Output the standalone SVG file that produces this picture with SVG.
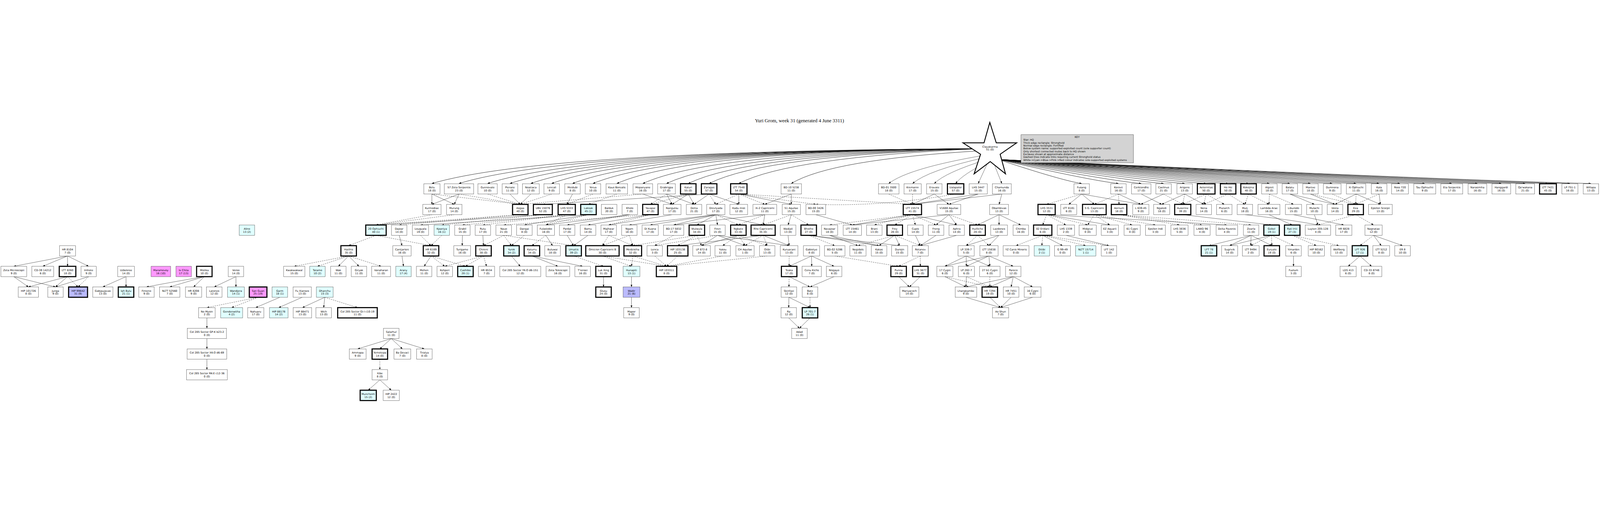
<svg xmlns="http://www.w3.org/2000/svg" width="7439" height="1326" viewBox="0 0 7439 1326" style="max-width:100vw;max-height:100vh">
<style>
text{font-family:"DejaVu Sans","Liberation Sans",sans-serif;font-size:12px;text-anchor:middle;fill:#000}
.title{font-family:"Liberation Serif",serif;font-size:23px}
rect{fill:#fff;stroke:#333;stroke-width:1.2}
.s{stroke:#000;stroke-width:5}
.c{fill:#e0ffff}.b{fill:#bbbbff}.p{fill:#ff99ff}
.k{fill:#d3d3d3}
.kt{text-anchor:start;font-size:11.5px}
#edges path{fill:none;stroke:#000;stroke-width:1.1;marker-end:url(#a)}
#edges .d{stroke-dasharray:6,4}
#edges .h{stroke-width:1.5}
</style>
<defs><marker id="a" markerWidth="10" markerHeight="8" refX="10" refY="4" orient="auto" markerUnits="userSpaceOnUse"><path d="M0,0L10,4L0,8z" fill="#000"/></marker></defs>
<rect width="7439" height="1326" style="fill:#fff;stroke:none"/>
<text class="title" x="3717" y="28">Yuri Grom, week 31 (generated 4 June 3311)</text>
<g id="edges">
<path class="h" d="M4560 150Q2527 160 2008 312"/><path class="h" d="M4560 150Q2628 160 2134 312"/><path class="h" d="M4560 150Q2734 160 2267 312"/><path class="h" d="M4560 150Q2817 160 2371 312"/><path class="h" d="M4560 150Q2895 160 2468 312"/><path class="h" d="M4560 150Q2972 160 2565 312"/><path class="h" d="M4560 150Q3050 160 2662 312"/><path class="h" d="M4560 150Q3126 160 2757 312"/><path class="h" d="M4560 150Q3215 160 2868 312"/><path class="h" d="M4560 150Q3312 165 2989 312"/><path class="h" d="M4560 150Q3400 170 3099 312"/><path class="h" d="M4560 150Q3480 175 3200 312"/><path class="h" d="M4560 150Q3558 180 3297 312"/><path class="h" d="M4560 150Q3668 190 3435 312"/><path class="h" d="M4560 160Q3864 200 3679 312"/><path d="M4580 180Q4226 240 4132 312"/><path d="M4585 190Q4315 250 4243 312"/><path d="M4590 200Q4396 260 4344 312"/><path d="M4595 210Q4475 270 4443 312"/><path d="M4590 220L4548 312"/><path d="M4625 230L4658 312"/>
<path class="h" d="M4640 200Q4944 300 5029 312"/><path class="h" d="M4640 200Q5080 300 5200 312"/><path class="h" d="M4640 200Q5165 300 5306 312"/><path class="h" d="M4640 200Q5248 300 5410 312"/><path class="h" d="M4640 200Q5327 300 5508 312"/><path class="h" d="M4640 200Q5407 300 5608 312"/><path class="h" d="M4640 200Q5488 300 5710 312"/><path class="h" d="M4640 200Q5564 300 5805 312"/><path class="h" d="M4640 200Q5642 300 5902 312"/><path class="h" d="M4640 200Q5718 300 5997 312"/><path class="h" d="M4640 200Q5795 300 6093 312"/><path class="h" d="M4640 200Q5876 300 6194 312"/><path class="h" d="M4640 200Q5964 300 6305 312"/><path class="h" d="M4640 200Q6050 300 6412 312"/><path class="h" d="M4640 200Q6128 300 6509 312"/><path class="h" d="M4640 200Q6220 300 6624 312"/><path class="h" d="M4640 200Q6320 300 6750 312"/><path class="h" d="M4640 200Q6416 300 6869 312"/><path class="h" d="M4640 200Q6504 300 6980 312"/><path class="h" d="M4640 200Q6593 300 7091 312"/><path class="h" d="M4640 200Q6678 300 7197 312"/><path class="h" d="M4640 200Q6760 300 7299 312"/><path class="h" d="M4640 200Q6838 300 7397 312"/>
<path d="M2008 361L2008 409"/><path d="M2008 361L2112 409"/><path d="M2134 361L2008 409"/><path d="M2134 361L2112 409"/><path class="d" d="M2008 361L2419 409"/><path class="d" d="M2134 361L2419 409"/><path class="d" d="M2267 361L2419 409"/><path d="M2371 361L2419 409"/><path d="M2468 361L2419 409"/><path class="d" d="M2565 361L2419 409"/><path d="M2662 361L2635 409"/><path class="d" d="M2757 361L2635 409"/><path class="d" d="M2868 361L2736 409"/><path d="M2989 361L3125 409"/><path class="d" d="M2989 361L2419 409"/><path class="d" d="M3099 361L3024 409"/><path d="M3099 361L3125 409"/><path d="M3099 361L3227 409"/><path d="M3200 361L3125 409"/><path d="M3200 361L3227 409"/><path class="d" d="M3200 361L3024 409"/><path d="M3297 361L3227 409"/><path d="M3297 361L3435 409"/><path class="d" d="M3297 361L3328 409"/><path d="M3297 361L2524 409"/><path d="M3435 361L3435 409"/><path class="d" d="M3435 361L3556 409"/><path d="M3435 361L3679 409"/><path class="d" d="M3435 361L3793 409"/><path class="d" d="M3435 361L4242 409"/><path class="d" d="M3435 361L3328 409"/><path d="M3679 361L3556 409"/><path d="M3679 361L3679 409"/><path class="d" d="M4132 361L4242 409"/><path class="d" d="M4243 361L4242 409"/><path d="M4344 361L4242 409"/><path d="M4344 361L4412 409"/><path class="d" d="M4443 361Q4100 420 3793 409"/><path d="M4548 361L4242 409"/><path d="M4548 361L4412 409"/><path d="M4658 361L4242 409"/><path d="M4658 361L4645 409"/>
<path class="d" d="M5029 361L4866 409"/><path d="M5029 361L4969 409"/><path d="M5029 361L5088 409"/><path d="M5029 361L5304 409"/><path class="d" d="M5200 361L5088 409"/><path class="d" d="M5200 361L5203 409"/><path d="M5200 361L5304 409"/><path d="M5306 361L5401 409"/><path d="M5410 361L5304 409"/><path class="d" d="M5410 361L5499 409"/><path d="M5508 361L5401 409"/><path class="d" d="M5508 361L5499 409"/><path d="M5508 361L5597 409"/><path class="d" d="M5608 361L5597 409"/><path class="d" d="M5608 361L5692 409"/><path class="d" d="M5608 361L5499 409"/><path class="d" d="M5710 361L5788 409"/><path class="d" d="M5710 361L5597 409"/><path class="d" d="M5805 361L5788 409"/><path class="d" d="M5805 361L5900 409"/><path class="d" d="M5902 361L5900 409"/><path class="d" d="M5902 361L6014 409"/><path d="M5997 361L6207 409"/><path d="M5997 361L6111 409"/><path d="M6093 361L6207 409"/><path class="d" d="M6093 361L6303 409"/><path class="d" d="M6194 361L6303 409"/><path d="M6305 361L6207 409"/><path class="d" d="M6305 361L6303 409"/><path d="M6305 361L6418 409"/><path class="d" d="M6412 361L6303 409"/><path d="M6412 361L6418 409"/>
<path class="d" d="M2008 457L1748 505"/><path class="d" d="M2112 457L1748 505"/><path class="d" d="M2419 457L1748 505"/><path d="M2524 457Q2200 480 1748 505"/><path class="d" d="M2524 457L2054 505"/><path class="d" d="M2419 457L1856 505"/><path class="d" d="M2635 457L2150 505"/><path class="d" d="M2635 457L2538 505"/><path class="d" d="M2635 457L2245 505"/><path d="M2736 457L2438 505"/><path d="M2736 457L1955 505"/><path class="d" d="M2736 457L2538 505"/><path d="M2928 457L2538 505"/><path d="M2928 457L2637 505"/><path class="d" d="M3024 457L2342 505"/><path d="M3024 457L2734 505"/><path class="d" d="M3024 457L2830 505"/><path d="M3328 457L2926 505"/><path d="M3328 457L3023 505"/><path d="M3328 457L3132 505"/><path d="M3328 457L3240 505"/><path d="M3328 457L3336 505"/><path class="d" d="M3328 457L3433 505"/><path d="M3328 457L3548 505"/><path d="M3125 457L2830 505"/><path d="M3556 457L3548 505"/><path class="d" d="M3556 457L3433 505"/><path d="M3556 457L3132 505"/><path d="M3679 457L3664 505"/><path class="d" d="M3679 457L3760 505"/><path class="d" d="M3679 457L3548 505"/><path d="M3793 457L3963 505"/><path class="d" d="M4242 457L3857 505"/><path d="M4242 457L3963 505"/><path class="d" d="M4242 457L4065 505"/><path class="d" d="M4242 457L4160 505"/><path class="d" d="M4242 457L4256 505"/><path class="d" d="M4242 457L4352 505"/><path d="M4242 457L4448 505"/><path d="M4412 457L4352 505"/><path d="M4412 457L4448 505"/><path d="M4412 457L3963 505"/><path class="d" d="M4412 457L4545 505"/><path d="M4645 457L4545 505"/><path d="M4645 457L4645 505"/><path d="M4645 457L4746 505"/>
<path class="d" d="M4866 457L4848 505"/><path class="d" d="M4866 457L4956 505"/><path class="d" d="M4866 457L5057 505"/><path d="M4866 457L5160 505"/><path d="M4866 457Q5300 480 5704 505"/><path class="d" d="M5088 457L5057 505"/><path class="d" d="M5088 457L5160 505"/><path class="d" d="M5088 457L5264 505"/><path class="d" d="M5088 457L5372 505"/><path class="d" d="M5203 457L5484 505"/><path class="d" d="M5203 457L5589 505"/><path class="d" d="M5203 457L5817 505"/><path d="M5499 457L5912 505"/><path d="M5900 457L6008 505"/><path d="M6014 457L6248 505"/><path d="M6111 457L6128 505"/><path class="d" d="M6303 457L6128 505"/><path class="d" d="M6303 457L6386 505"/><path d="M5788 457Q6000 480 6128 505"/>
<path class="d" d="M1748 553L1621 601"/><path class="d" d="M1748 553L2004 601"/><path d="M1856 553L1869 601"/><path class="d" d="M1955 553L2004 601"/><path class="d" d="M2054 553L2004 601"/><path d="M2150 553L2149 601"/><path d="M2245 553L2248 601"/><path class="d" d="M2342 553L2248 601"/><path class="d" d="M2342 553L2378 601"/><path class="d" d="M2342 553L2667 601"/><path class="d" d="M2438 553L2378 601"/><path class="d" d="M2538 553L2473 601"/><path d="M2538 553L2569 601"/><path d="M2637 553L2667 601"/><path d="M2734 553L2667 601"/><path class="d" d="M2830 553L2801 601"/><path class="d" d="M2830 553L2942 601"/><path class="d" d="M2926 553L2801 601"/><path class="d" d="M2926 553L2942 601"/><path class="d" d="M3132 553L3044 601"/><path class="d" d="M3240 553L2942 601"/><path class="d" d="M3240 553L3151 601"/><path class="d" d="M3240 553L3262 601"/><path d="M3336 553L3262 601"/><path d="M3336 553L3464 601"/><path d="M3336 553L3669 601"/><path class="d" d="M3336 553L3044 601"/><path class="d" d="M3433 553L3360 601"/><path class="d" d="M3433 553L3464 601"/><path d="M3433 553L3262 601"/><path class="d" d="M3433 553L3567 601"/><path class="d" d="M3548 553L3464 601"/><path class="d" d="M3548 553L3567 601"/><path d="M3548 553L3669 601"/><path d="M3548 553L3151 601"/><path d="M3664 553L3669 601"/><path class="d" d="M3760 553L3881 601"/><path d="M3760 553L4087 601"/><path d="M3760 553L4183 601"/><path d="M3857 553L3989 601"/><path d="M3857 553L4087 601"/><path d="M4160 553L4087 601"/><path d="M4160 553L4183 601"/><path class="d" d="M4160 553L4279 601"/><path class="d" d="M4160 553L3989 601"/><path d="M4256 553L4279 601"/><path d="M4352 553L4279 601"/><path d="M4448 553L4279 601"/><path class="d" d="M4545 553L4492 601"/><path class="d" d="M4545 553L4598 601"/><path d="M4645 553L4598 601"/><path d="M4645 553L4492 601"/>
<path class="d" d="M4848 553L4724 601"/><path class="d" d="M4848 553L4844 601"/><path d="M4848 553L4940 601"/><path class="d" d="M4848 553L5048 601"/><path class="d" d="M4848 553L5156 601"/><path d="M4956 553L5156 601"/><path d="M5817 553L5621 601"/><path d="M5817 553L5717 601"/><path d="M5817 553L5815 601"/><path d="M5817 553L5913 601"/><path d="M5912 553L5717 601"/><path class="d" d="M5912 553L5815 601"/><path class="d" d="M5912 553L5913 601"/><path class="d" d="M5912 553L6014 601"/><path class="d" d="M6008 553L6120 601"/><path class="d" d="M6008 553L6225 601"/><path class="d" d="M6386 553L6323 601"/><path d="M6386 553L6422 601"/><path d="M6386 553L6521 601"/>
<path d="M314 649L64 697"/><path d="M314 649L199 697"/><path d="M314 649L314 697"/><path d="M314 649L412 697"/><path class="d" d="M1621 649L1368 697"/><path class="d" d="M1621 649L1476 697"/><path d="M1621 649L1573 697"/><path d="M1621 649L1669 697"/><path class="d" d="M1621 649L1772 697"/><path d="M1869 649L1876 697"/><path d="M2004 649L1972 697"/><path class="d" d="M2004 649L2068 697"/><path class="d" d="M2004 649L2164 697"/><path class="d" d="M2248 649L2068 697"/><path class="d" d="M2248 649L2164 697"/><path class="d" d="M2248 649L2262 697"/><path d="M2378 649L2419 697"/><path d="M2473 649L2594 697"/><path d="M2473 649L2709 697"/><path class="d" d="M2667 649L2806 697"/><path class="d" d="M2801 649L2936 697"/><path class="d" d="M2801 649L3099 697"/><path class="d" d="M2942 649L2936 697"/><path class="d" d="M2942 649L3099 697"/><path class="d" d="M3044 649L3099 697"/><path class="d" d="M3151 649L3099 697"/><path class="d" d="M3360 649L3099 697"/><path class="d" d="M3567 649L3099 697"/><path class="d" d="M3669 649L3669 697"/><path d="M3773 649L3669 697"/><path d="M3773 649L3774 697"/><path d="M3773 649L3878 697"/><path class="d" d="M3881 649L4178 697"/><path class="d" d="M4279 649L4178 697"/><path class="d" d="M4279 649L4279 697"/><path d="M4492 649L4393 697"/><path d="M4492 649L4493 697"/><path d="M4492 649L4602 697"/><path d="M4598 649L4393 697"/><path d="M4598 649L4493 697"/><path d="M4598 649L4602 697"/><path d="M4598 649L4711 697"/><path d="M6014 649L6014 697"/><path d="M6323 649L6268 697"/><path d="M6323 649L6377 697"/>
<path d="M64 745L132 793"/><path d="M64 745L258 793"/><path d="M314 745L132 793"/><path d="M314 745L258 793"/><path class="d" d="M314 745L363 793"/><path d="M412 745L258 793"/><path class="d" d="M412 745L363 793"/><path d="M586 745L478 793"/><path d="M586 745L586 793"/><path d="M950 745Q800 770 681 793"/><path d="M950 745L789 793"/><path d="M950 745L900 793"/><path d="M1097 745L996 793"/><path d="M1097 745L1097 793"/><path d="M2806 745L2806 793"/><path d="M2936 745L2936 793"/><path class="d" d="M3669 745L3668 793"/><path d="M3669 745L3766 793"/><path d="M3878 745L3766 793"/><path d="M4178 745L4228 793"/><path d="M4279 745L4228 793"/><path d="M4393 745L4491 793"/><path class="d" d="M4393 745L4602 793"/><path d="M4493 745L4491 793"/><path class="d" d="M4493 745L4602 793"/><path class="d" d="M4602 745L4602 793"/><path d="M4711 745L4602 793"/><path d="M4711 745L4701 793"/><path d="M4711 745L4801 793"/><path d="M4711 745L4491 793"/>
<path class="d" d="M1200 841L962 889"/><path class="d" d="M1200 841L1077 889"/><path d="M1301 841L1189 889"/><path d="M1405 841L1296 889"/><path d="M1510 841L1406 889"/><path d="M1510 841L1505 889"/><path class="d" d="M1510 841L1662 889"/><path d="M2936 841L2936 889"/><path d="M3668 841L3667 889"/><path d="M3668 841L3766 889"/><path class="d" d="M3766 841L3766 889"/><path d="M4491 841L4652 889"/><path d="M4602 841L4652 889"/><path d="M4701 841L4652 889"/><path d="M4801 841L4652 889"/>
<path d="M962 937L962 985"/><path d="M3667 937L3717 985"/><path d="M3766 937L3717 985"/><path d="M962 1033L962 1081"/><path d="M962 1129L962 1177"/><path d="M1819 1033L1663 1081"/><path d="M1819 1033L1766 1081"/><path d="M1819 1033L1871 1081"/><path d="M1819 1033L1973 1081"/><path class="d" d="M1766 1129L1766 1177"/><path d="M1766 1225L1712 1273"/><path d="M1766 1225L1819 1273"/>
</g>
<g id="n-clayakarma"><polygon points="4602,28 4632,123 4727,123 4650,176 4675,267 4604,210 4529,267 4559,176 4477,123 4575,123" style="fill:#fff;stroke:#000;stroke-width:4"/><text x="4603" y="145">Clayakarma<tspan x="4603" dy="14">51 (0)</tspan></text></g>
<g id="legend"><rect class="k" x="4747" y="85" width="523" height="131"/><text x="5008" y="100">KEY</text><text class="kt" x="4758" y="113">Star: HQ</text><text class="kt" x="4758" y="127">Thick edge rectangle: Stronghold</text><text class="kt" x="4758" y="140">Normal edge rectangle: Fortified</text><text class="kt" x="4758" y="153">Below system name: supported exploited count (sole supporter count)</text><text class="kt" x="4758" y="167">Only shortest connected routes back to HQ shown</text><text class="kt" x="4758" y="180">Exclaves shown at approximate distance</text><text class="kt" x="4758" y="193">Dashed lines indicate links requiring current Stronghold status</text><text class="kt" x="4758" y="207">White-&gt;Cyan-&gt;Blue-&gt;Pink-&gt;Red colour indicates sole-supported exploited systems</text></g>
<g id="n-belu"><rect x="1970.5" y="313" width="75" height="48"/><text x="2008" y="335">Belu<tspan x="2008" dy="14">18 (0)</tspan></text></g>
<g id="n-57zs"><rect x="2065.5" y="313" width="137" height="48"/><text x="2134" y="335">57 Zeta Serpentis<tspan x="2134" dy="14">23 (0)</tspan></text></g>
<g id="n-gunnovale"><rect x="2222" y="313" width="90" height="48"/><text x="2267" y="335">Gunnovale<tspan x="2267" dy="14">10 (0)</tspan></text></g>
<g id="n-pienate"><rect x="2335" y="313" width="72" height="48"/><text x="2371" y="335">Pienate<tspan x="2371" dy="14">11 (0)</tspan></text></g>
<g id="n-noatiaca"><rect x="2429" y="313" width="78" height="48"/><text x="2468" y="335">Noatiaca<tspan x="2468" dy="14">12 (0)</tspan></text></g>
<g id="n-lencali"><rect x="2529" y="313" width="72" height="48"/><text x="2565" y="335">Lencali<tspan x="2565" dy="14">9 (0)</tspan></text></g>
<g id="n-meidubi"><rect x="2626" y="313" width="72" height="48"/><text x="2662" y="335">Meidubi<tspan x="2662" dy="14">8 (0)</tspan></text></g>
<g id="n-yorua"><rect x="2721" y="313" width="72" height="48"/><text x="2757" y="335">Yorua<tspan x="2757" dy="14">10 (0)</tspan></text></g>
<g id="n-kaus"><rect x="2818" y="313" width="100" height="48"/><text x="2868" y="335">Kaus Borealis<tspan x="2868" dy="14">11 (0)</tspan></text></g>
<g id="n-mopanyane"><rect x="2943.5" y="313" width="91" height="48"/><text x="2989" y="335">Mopanyane<tspan x="2989" dy="14">16 (0)</tspan></text></g>
<g id="n-grabrigpa"><rect x="3058" y="313" width="82" height="48"/><text x="3099" y="335">Grabrigpa<tspan x="3099" dy="14">17 (0)</tspan></text></g>
<g id="n-katuri"><rect class="s" x="3164" y="313" width="72" height="48"/><text x="3200" y="335">Katuri<tspan x="3200" dy="14">55 (0)</tspan></text></g>
<g id="n-zaragas"><rect class="s" x="3261" y="313" width="72" height="48"/><text x="3297" y="335">Zaragas<tspan x="3297" dy="14">57 (0)</tspan></text></g>
<g id="n-ltt7548"><rect class="s" x="3397" y="313" width="76" height="48"/><text x="3435" y="335">LTT 7548<tspan x="3435" dy="14">54 (0)</tspan></text></g>
<g id="n-bd105238"><rect x="3631.5" y="313" width="95" height="48"/><text x="3679" y="335">BD-10 5238<tspan x="3679" dy="14">11 (0)</tspan></text></g>
<g id="n-bd013500"><rect x="4084.5" y="313" width="95" height="48"/><text x="4132" y="335">BD-01 3500<tspan x="4132" dy="14">18 (0)</tspan></text></g>
<g id="n-kremainn"><rect x="4203" y="313" width="80" height="48"/><text x="4243" y="335">Kremainn<tspan x="4243" dy="14">17 (0)</tspan></text></g>
<g id="n-eravate"><rect x="4308" y="313" width="72" height="48"/><text x="4344" y="335">Eravate<tspan x="4344" dy="14">15 (0)</tspan></text></g>
<g id="n-ualapalor"><rect class="s" x="4405" y="313" width="76" height="48"/><text x="4443" y="335">Ualapalor<tspan x="4443" dy="14">57 (0)</tspan></text></g>
<g id="n-lhs3447"><rect x="4506" y="313" width="84" height="48"/><text x="4548" y="335">LHS 3447<tspan x="4548" dy="14">15 (0)</tspan></text></g>
<g id="n-chamunda"><rect x="4614" y="313" width="88" height="48"/><text x="4658" y="335">Chamunda<tspan x="4658" dy="14">16 (0)</tspan></text></g>
<g id="n-fusang"><rect x="4993" y="313" width="72" height="48"/><text x="5029" y="335">Fusang<tspan x="5029" dy="14">8 (0)</tspan></text></g>
<g id="n-korovii"><rect x="5164" y="313" width="72" height="48"/><text x="5200" y="335">Korovii<tspan x="5200" dy="14">16 (0)</tspan></text></g>
<g id="n-cerktondhs"><rect x="5261" y="313" width="90" height="48"/><text x="5306" y="335">Cerktondhs<tspan x="5306" dy="14">17 (0)</tspan></text></g>
<g id="n-caelinus"><rect x="5374" y="313" width="72" height="48"/><text x="5410" y="335">Caelinus<tspan x="5410" dy="14">21 (0)</tspan></text></g>
<g id="n-arigens"><rect x="5472" y="313" width="72" height="48"/><text x="5508" y="335">Arigens<tspan x="5508" dy="14">13 (0)</tspan></text></g>
<g id="n-aeternitas"><rect class="s" x="5567" y="313" width="82" height="48"/><text x="5608" y="335">Aeternitas<tspan x="5608" dy="14">50 (0)</tspan></text></g>
<g id="n-hohsi"><rect class="s" x="5674" y="313" width="72" height="48"/><text x="5710" y="335">Ho Hsi<tspan x="5710" dy="14">50 (0)</tspan></text></g>
<g id="n-kokojina"><rect class="s" x="5769" y="313" width="72" height="48"/><text x="5805" y="335">Kokojina<tspan x="5805" dy="14">48 (0)</tspan></text></g>
<g id="n-algreit"><rect x="5866" y="313" width="72" height="48"/><text x="5902" y="335">Algreit<tspan x="5902" dy="14">18 (0)</tspan></text></g>
<g id="n-balatu"><rect x="5961" y="313" width="72" height="48"/><text x="5997" y="335">Balatu<tspan x="5997" dy="14">17 (0)</tspan></text></g>
<g id="n-mantxe"><rect x="6057" y="313" width="72" height="48"/><text x="6093" y="335">Mantxe<tspan x="6093" dy="14">18 (0)</tspan></text></g>
<g id="n-dumnona"><rect x="6153" y="313" width="82" height="48"/><text x="6194" y="335">Dumnona<tspan x="6194" dy="14">9 (0)</tspan></text></g>
<g id="n-xioph"><rect x="6260" y="313" width="90" height="48"/><text x="6305" y="335">Xi Ophiuchi<tspan x="6305" dy="14">11 (0)</tspan></text></g>
<g id="n-kala"><rect x="6376" y="313" width="72" height="48"/><text x="6412" y="335">Kala<tspan x="6412" dy="14">16 (0)</tspan></text></g>
<g id="n-ross720"><rect x="6470" y="313" width="78" height="48"/><text x="6509" y="335">Ross 720<tspan x="6509" dy="14">14 (0)</tspan></text></g>
<g id="n-tauoph"><rect x="6573" y="313" width="102" height="48"/><text x="6624" y="335">Tau Ophiuchii<tspan x="6624" dy="14">9 (0)</tspan></text></g>
<g id="n-etaserp"><rect x="6699" y="313" width="102" height="48"/><text x="6750" y="335">Eta Serpentis<tspan x="6750" dy="14">17 (0)</tspan></text></g>
<g id="n-narasimha"><rect x="6825.5" y="313" width="87" height="48"/><text x="6869" y="335">Narasimha<tspan x="6869" dy="14">16 (0)</tspan></text></g>
<g id="n-hanggardi"><rect x="6936.5" y="313" width="87" height="48"/><text x="6980" y="335">Hanggardi<tspan x="6980" dy="14">16 (0)</tspan></text></g>
<g id="n-qawakana"><rect x="7047.5" y="313" width="87" height="48"/><text x="7091" y="335">Qa'wakana<tspan x="7091" dy="14">21 (0)</tspan></text></g>
<g id="n-ltt7421"><rect class="s" x="7158" y="313" width="78" height="48"/><text x="7197" y="335">LTT 7421<tspan x="7197" dy="14">45 (0)</tspan></text></g>
<g id="n-lp7511"><rect x="7261.5" y="313" width="75" height="48"/><text x="7299" y="335">LP 751-1<tspan x="7299" dy="14">16 (0)</tspan></text></g>
<g id="n-willapa"><rect x="7361" y="313" width="72" height="48"/><text x="7397" y="335">Willapa<tspan x="7397" dy="14">13 (0)</tspan></text></g>
<g id="n-kurmodiae"><rect x="1965.5" y="409" width="85" height="48"/><text x="2008" y="431">Kurmodiae<tspan x="2008" dy="14">17 (0)</tspan></text></g>
<g id="n-murung"><rect x="2076" y="409" width="72" height="48"/><text x="2112" y="431">Murung<tspan x="2112" dy="14">14 (0)</tspan></text></g>
<g id="n-asgaa"><rect class="s" x="2383" y="409" width="72" height="48"/><text x="2419" y="431">Asgaa<tspan x="2419" dy="14">40 (0)</tspan></text></g>
<g id="n-ubv15076"><rect class="s" x="2480" y="409" width="88" height="48"/><text x="2524" y="431">UBV 15076<tspan x="2524" dy="14">52 (0)</tspan></text></g>
<g id="n-lhs5333"><rect class="s" x="2595" y="409" width="80" height="48"/><text x="2635" y="431">LHS 5333<tspan x="2635" dy="14">47 (0)</tspan></text></g>
<g id="n-laksak"><rect class="s c" x="2700" y="409" width="72" height="48"/><text x="2736" y="431">Laksak<tspan x="2736" dy="14">45 (1)</tspan></text></g>
<g id="n-balduk"><rect x="2796" y="409" width="72" height="48"/><text x="2832" y="431">Balduk<tspan x="2832" dy="14">20 (0)</tspan></text></g>
<g id="n-kholo"><rect x="2892" y="409" width="72" height="48"/><text x="2928" y="431">Kholo<tspan x="2928" dy="14">7 (0)</tspan></text></g>
<g id="n-yavapai"><rect class="s" x="2988" y="409" width="72" height="48"/><text x="3024" y="431">Yavapai<tspan x="3024" dy="14">47 (0)</tspan></text></g>
<g id="n-nangutsu"><rect x="3084" y="409" width="82" height="48"/><text x="3125" y="431">Nangutsu<tspan x="3125" dy="14">17 (0)</tspan></text></g>
<g id="n-detta"><rect x="3191" y="409" width="72" height="48"/><text x="3227" y="431">Detta<tspan x="3227" dy="14">21 (0)</tspan></text></g>
<g id="n-drevlyada"><rect x="3285.5" y="409" width="85" height="48"/><text x="3328" y="431">Drevlyada<tspan x="3328" dy="14">17 (0)</tspan></text></g>
<g id="n-kadumist"><rect x="3394" y="409" width="82" height="48"/><text x="3435" y="431">Kadu mist<tspan x="3435" dy="14">12 (0)</tspan></text></g>
<g id="n-xi2cap"><rect x="3501" y="409" width="110" height="48"/><text x="3556" y="431">Xi-2 Capricorni<tspan x="3556" dy="14">11 (0)</tspan></text></g>
<g id="n-51aql"><rect x="3636.5" y="409" width="85" height="48"/><text x="3679" y="431">51 Aquilae<tspan x="3679" dy="14">15 (0)</tspan></text></g>
<g id="n-bd003426"><rect x="3747" y="409" width="92" height="48"/><text x="3793" y="431">BD-00 3426<tspan x="3793" dy="14">15 (0)</tspan></text></g>
<g id="n-ltt15574"><rect class="s" x="4199.5" y="409" width="85" height="48"/><text x="4242" y="431">LTT 15574<tspan x="4242" dy="14">41 (0)</tspan></text></g>
<g id="n-v1688"><rect x="4357" y="409" width="110" height="48"/><text x="4412" y="431">V1688 Aquilae<tspan x="4412" dy="14">15 (0)</tspan></text></g>
<g id="n-obambivas"><rect x="4601" y="409" width="88" height="48"/><text x="4645" y="431">Obambivas<tspan x="4645" dy="14">13 (0)</tspan></text></g>
<g id="n-lhs3531"><rect class="s" x="4826" y="409" width="80" height="48"/><text x="4866" y="431">LHS 3531<tspan x="4866" dy="14">12 (0)</tspan></text></g>
<g id="n-ltt8181"><rect x="4931.5" y="409" width="75" height="48"/><text x="4969" y="431">LTT 8181<tspan x="4969" dy="14">6 (0)</tspan></text></g>
<g id="n-5gcap"><rect class="s" x="5033" y="409" width="110" height="48"/><text x="5088" y="431">5 G. Capricorni<tspan x="5088" dy="14">13 (0)</tspan></text></g>
<g id="n-aornum"><rect class="s" x="5167" y="409" width="72" height="48"/><text x="5203" y="431">Aornum<tspan x="5203" dy="14">18 (0)</tspan></text></g>
<g id="n-l63945"><rect x="5266.5" y="409" width="75" height="48"/><text x="5304" y="431">L 639-45<tspan x="5304" dy="14">9 (0)</tspan></text></g>
<g id="n-ngaledi"><rect x="5363.5" y="409" width="75" height="48"/><text x="5401" y="431">Ngaledi<tspan x="5401" dy="14">18 (0)</tspan></text></g>
<g id="n-auserine"><rect class="s" x="5461.5" y="409" width="75" height="48"/><text x="5499" y="431">Auserine<tspan x="5499" dy="14">39 (0)</tspan></text></g>
<g id="n-nona"><rect x="5561" y="409" width="72" height="48"/><text x="5597" y="431">Nona<tspan x="5597" dy="14">14 (0)</tspan></text></g>
<g id="n-plutarch"><rect x="5656" y="409" width="72" height="48"/><text x="5692" y="431">Plutarch<tspan x="5692" dy="14">6 (0)</tspan></text></g>
<g id="n-mutj"><rect x="5752" y="409" width="72" height="48"/><text x="5788" y="431">Mutj<tspan x="5788" dy="14">18 (0)</tspan></text></g>
<g id="n-lambdaarae"><rect x="5849" y="409" width="102" height="48"/><text x="5900" y="431">Lambda Arae<tspan x="5900" dy="14">16 (0)</tspan></text></g>
<g id="n-liburodo"><rect x="5976.5" y="409" width="75" height="48"/><text x="6014" y="431">Liburodo<tspan x="6014" dy="14">15 (0)</tspan></text></g>
<g id="n-mulachi"><rect x="6075" y="409" width="72" height="48"/><text x="6111" y="431">Mulachi<tspan x="6111" dy="14">10 (0)</tspan></text></g>
<g id="n-isleta"><rect x="6171" y="409" width="72" height="48"/><text x="6207" y="431">Isleta<tspan x="6207" dy="14">14 (0)</tspan></text></g>
<g id="n-eea"><rect class="s" x="6267" y="409" width="72" height="48"/><text x="6303" y="431">Eea<tspan x="6303" dy="14">29 (0)</tspan></text></g>
<g id="n-epsscorpii"><rect x="6363" y="409" width="110" height="48"/><text x="6418" y="431">Epsilon Scorpii<tspan x="6418" dy="14">13 (0)</tspan></text></g>
<g id="n-alino"><rect class="c" x="1112" y="505" width="72" height="48"/><text x="1148" y="527">Alino<tspan x="1148" dy="14">13 (2)</tspan></text></g>
<g id="n-20oph"><rect class="s c" x="1700.5" y="505" width="95" height="48"/><text x="1748" y="527">20 Ophiuchi<tspan x="1748" dy="14">40 (1)</tspan></text></g>
<g id="n-dajoar"><rect x="1820" y="505" width="72" height="48"/><text x="1856" y="527">Dajoar<tspan x="1856" dy="14">14 (0)</tspan></text></g>
<g id="n-louguala"><rect x="1917.5" y="505" width="75" height="48"/><text x="1955" y="527">Louguala<tspan x="1955" dy="14">19 (0)</tspan></text></g>
<g id="n-kpaniya"><rect class="c" x="2018" y="505" width="72" height="48"/><text x="2054" y="527">Kpaniya<tspan x="2054" dy="14">16 (1)</tspan></text></g>
<g id="n-grabil"><rect x="2114" y="505" width="72" height="48"/><text x="2150" y="527">Grabil<tspan x="2150" dy="14">15 (0)</tspan></text></g>
<g id="n-rutu"><rect x="2209" y="505" width="72" height="48"/><text x="2245" y="527">Rutu<tspan x="2245" dy="14">17 (0)</tspan></text></g>
<g id="n-nauo"><rect x="2306" y="505" width="72" height="48"/><text x="2342" y="527">Nauo<tspan x="2342" dy="14">21 (0)</tspan></text></g>
<g id="n-dangai"><rect x="2402" y="505" width="72" height="48"/><text x="2438" y="527">Dangai<tspan x="2438" dy="14">8 (0)</tspan></text></g>
<g id="n-fulastobo"><rect x="2498" y="505" width="80" height="48"/><text x="2538" y="527">Fulastobo<tspan x="2538" dy="14">16 (0)</tspan></text></g>
<g id="n-pardal"><rect x="2601" y="505" width="72" height="48"/><text x="2637" y="527">Pardal<tspan x="2637" dy="14">17 (0)</tspan></text></g>
<g id="n-bamu"><rect x="2698" y="505" width="72" height="48"/><text x="2734" y="527">Bamu<tspan x="2734" dy="14">14 (0)</tspan></text></g>
<g id="n-majhwar"><rect x="2794" y="505" width="72" height="48"/><text x="2830" y="527">Majhwar<tspan x="2830" dy="14">17 (0)</tspan></text></g>
<g id="n-ngam"><rect x="2890" y="505" width="72" height="48"/><text x="2926" y="527">Ngam<tspan x="2926" dy="14">18 (0)</tspan></text></g>
<g id="n-dikuana"><rect x="2985.5" y="505" width="75" height="48"/><text x="3023" y="527">Di Kuana<tspan x="3023" dy="14">17 (0)</tspan></text></g>
<g id="n-bd175832"><rect x="3084.5" y="505" width="95" height="48"/><text x="3132" y="527">BD-17 5832<tspan x="3132" dy="14">17 (0)</tspan></text></g>
<g id="n-wulwula"><rect class="s" x="3204" y="505" width="72" height="48"/><text x="3240" y="527">Wulwula<tspan x="3240" dy="14">34 (0)</tspan></text></g>
<g id="n-firen"><rect x="3300" y="505" width="72" height="48"/><text x="3336" y="527">Firen<tspan x="3336" dy="14">15 (0)</tspan></text></g>
<g id="n-ngbato"><rect class="s" x="3397" y="505" width="72" height="48"/><text x="3433" y="527">Ngbato<tspan x="3433" dy="14">33 (0)</tspan></text></g>
<g id="n-rhocap"><rect class="s" x="3492" y="505" width="112" height="48"/><text x="3548" y="527">Rho Capricorni<tspan x="3548" dy="14">35 (0)</tspan></text></g>
<g id="n-wadjali"><rect x="3628" y="505" width="72" height="48"/><text x="3664" y="527">Wadjali<tspan x="3664" dy="14">13 (0)</tspan></text></g>
<g id="n-bhotho"><rect class="s" x="3724" y="505" width="72" height="48"/><text x="3760" y="527">Bhotho<tspan x="3760" dy="14">27 (0)</tspan></text></g>
<g id="n-navajoar"><rect x="3819.5" y="505" width="75" height="48"/><text x="3857" y="527">Navajoar<tspan x="3857" dy="14">18 (0)</tspan></text></g>
<g id="n-ltt15461"><rect x="3920.5" y="505" width="85" height="48"/><text x="3963" y="527">LTT 15461<tspan x="3963" dy="14">14 (0)</tspan></text></g>
<g id="n-brani"><rect x="4029" y="505" width="72" height="48"/><text x="4065" y="527">Brani<tspan x="4065" dy="14">13 (0)</tspan></text></g>
<g id="n-frey"><rect class="s" x="4124" y="505" width="72" height="48"/><text x="4160" y="527">Frey<tspan x="4160" dy="14">28 (0)</tspan></text></g>
<g id="n-cupis"><rect x="4220" y="505" width="72" height="48"/><text x="4256" y="527">Cupis<tspan x="4256" dy="14">14 (0)</tspan></text></g>
<g id="n-freng"><rect x="4316" y="505" width="72" height="48"/><text x="4352" y="527">Freng<tspan x="4352" dy="14">11 (0)</tspan></text></g>
<g id="n-aphra"><rect x="4412" y="505" width="72" height="48"/><text x="4448" y="527">Aphra<tspan x="4448" dy="14">14 (0)</tspan></text></g>
<g id="n-huilliche"><rect class="s" x="4509" y="505" width="72" height="48"/><text x="4545" y="527">Huilliche<tspan x="4545" dy="14">28 (0)</tspan></text></g>
<g id="n-lazdones"><rect x="4606" y="505" width="78" height="48"/><text x="4645" y="527">Lazdones<tspan x="4645" dy="14">13 (0)</tspan></text></g>
<g id="n-chimba"><rect x="4710" y="505" width="72" height="48"/><text x="4746" y="527">Chimba<tspan x="4746" dy="14">16 (0)</tspan></text></g>
<g id="n-82eri"><rect class="s" x="4805.5" y="505" width="85" height="48"/><text x="4848" y="527">82 Eridani<tspan x="4848" dy="14">6 (0)</tspan></text></g>
<g id="n-lhs1339"><rect x="4916" y="505" width="80" height="48"/><text x="4956" y="527">LHS 1339<tspan x="4956" dy="14">2 (0)</tspan></text></g>
<g id="n-midgcut"><rect x="5017" y="505" width="80" height="48"/><text x="5057" y="527">Midgcut<tspan x="5057" dy="14">0 (0)</tspan></text></g>
<g id="n-ezaqr"><rect x="5120" y="505" width="80" height="48"/><text x="5160" y="527">EZ Aquarii<tspan x="5160" dy="14">3 (0)</tspan></text></g>
<g id="n-61cyg"><rect x="5226.5" y="505" width="75" height="48"/><text x="5264" y="527">61 Cygni<tspan x="5264" dy="14">0 (0)</tspan></text></g>
<g id="n-epsindi"><rect x="5326" y="505" width="92" height="48"/><text x="5372" y="527">Epsilon Indi<tspan x="5372" dy="14">3 (0)</tspan></text></g>
<g id="n-lhs3836"><rect x="5444" y="505" width="80" height="48"/><text x="5484" y="527">LHS 3836<tspan x="5484" dy="14">5 (0)</tspan></text></g>
<g id="n-lawd96"><rect x="5551.5" y="505" width="75" height="48"/><text x="5589" y="527">LAWD 96<tspan x="5589" dy="14">4 (0)</tspan></text></g>
<g id="n-deltapav"><rect x="5654" y="505" width="100" height="48"/><text x="5704" y="527">Delta Pavonis<tspan x="5704" dy="14">4 (0)</tspan></text></g>
<g id="n-zearla"><rect x="5781" y="505" width="72" height="48"/><text x="5817" y="527">Zearla<tspan x="5817" dy="14">11 (0)</tspan></text></g>
<g id="n-gebel"><rect class="s c" x="5876" y="505" width="72" height="48"/><text x="5912" y="527">Gebel<tspan x="5912" dy="14">19 (1)</tspan></text></g>
<g id="n-ratiirtii"><rect class="s c" x="5972" y="505" width="72" height="48"/><text x="6008" y="527">Rati Irtii<tspan x="6008" dy="14">27 (3)</tspan></text></g>
<g id="n-luyten"><rect x="6069" y="505" width="118" height="48"/><text x="6128" y="527">Luyten 205-128<tspan x="6128" dy="14">4 (0)</tspan></text></g>
<g id="n-hr6828"><rect x="6210.5" y="505" width="75" height="48"/><text x="6248" y="527">HR 6828<tspan x="6248" dy="14">17 (0)</tspan></text></g>
<g id="n-nagnatae"><rect x="6346" y="505" width="80" height="48"/><text x="6386" y="527">Nagnatae<tspan x="6386" dy="14">12 (0)</tspan></text></g>
<g id="n-hr8104"><rect x="276.5" y="601" width="75" height="48"/><text x="314" y="623">HR 8104<tspan x="314" dy="14">7 (0)</tspan></text></g>
<g id="n-haithis"><rect class="s" x="1585" y="601" width="72" height="48"/><text x="1621" y="623">Haithis<tspan x="1621" dy="14">35 (0)</tspan></text></g>
<g id="n-cantjarisni"><rect x="1826.5" y="601" width="85" height="48"/><text x="1869" y="623">Cantjarisni<tspan x="1869" dy="14">16 (0)</tspan></text></g>
<g id="n-hr6189"><rect class="s" x="1968" y="601" width="72" height="48"/><text x="2004" y="623">HR 6189<tspan x="2004" dy="14">32 (0)</tspan></text></g>
<g id="n-turigame"><rect x="2110" y="601" width="78" height="48"/><text x="2149" y="623">Turigame<tspan x="2149" dy="14">16 (0)</tspan></text></g>
<g id="n-chireni"><rect class="s" x="2212" y="601" width="72" height="48"/><text x="2248" y="623">Chireni<tspan x="2248" dy="14">38 (0)</tspan></text></g>
<g id="n-yurok"><rect class="s c" x="2342" y="601" width="72" height="48"/><text x="2378" y="623">Yurok<tspan x="2378" dy="14">34 (2)</tspan></text></g>
<g id="n-katurru"><rect class="s" x="2437" y="601" width="72" height="48"/><text x="2473" y="623">Katurru<tspan x="2473" dy="14">34 (0)</tspan></text></g>
<g id="n-buluwai"><rect x="2533" y="601" width="72" height="48"/><text x="2569" y="623">Buluwai<tspan x="2569" dy="14">18 (0)</tspan></text></g>
<g id="n-umaitis"><rect class="s c" x="2631" y="601" width="72" height="48"/><text x="2667" y="623">Umaitis<tspan x="2667" dy="14">39 (2)</tspan></text></g>
<g id="n-omicronb"><rect class="s" x="2723.5" y="601" width="155" height="48"/><text x="2801" y="623">Omicron Capricorni B<tspan x="2801" dy="14">30 (0)</tspan></text></g>
<g id="n-medzistha"><rect class="s" x="2901" y="601" width="82" height="48"/><text x="2942" y="623">Medzistha<tspan x="2942" dy="14">32 (0)</tspan></text></g>
<g id="n-lenca"><rect x="3008" y="601" width="72" height="48"/><text x="3044" y="623">Lenca<tspan x="3044" dy="14">3 (0)</tspan></text></g>
<g id="n-hip103138"><rect class="s" x="3103.5" y="601" width="95" height="48"/><text x="3151" y="623">HIP 103138<tspan x="3151" dy="14">25 (0)</tspan></text></g>
<g id="n-lp8728"><rect x="3221" y="601" width="82" height="48"/><text x="3262" y="623">LP 872-8<tspan x="3262" dy="14">14 (0)</tspan></text></g>
<g id="n-yukou"><rect x="3324" y="601" width="72" height="48"/><text x="3360" y="623">Yukou<tspan x="3360" dy="14">11 (0)</tspan></text></g>
<g id="n-chaql"><rect x="3421.5" y="601" width="85" height="48"/><text x="3464" y="623">CH Aquilae<tspan x="3464" dy="14">1 (0)</tspan></text></g>
<g id="n-oitbi"><rect x="3531" y="601" width="72" height="48"/><text x="3567" y="623">Oitbi<tspan x="3567" dy="14">13 (0)</tspan></text></g>
<g id="n-kuruacani"><rect x="3628" y="601" width="82" height="48"/><text x="3669" y="623">Kuruacani<tspan x="3669" dy="14">13 (0)</tspan></text></g>
<g id="n-gabietye"><rect x="3735.5" y="601" width="75" height="48"/><text x="3773" y="623">Gabietye<tspan x="3773" dy="14">8 (0)</tspan></text></g>
<g id="n-bd025286"><rect x="3833.5" y="601" width="95" height="48"/><text x="3881" y="623">BD-02 5286<tspan x="3881" dy="14">5 (0)</tspan></text></g>
<g id="n-negidals"><rect x="3951.5" y="601" width="75" height="48"/><text x="3989" y="623">Negidals<tspan x="3989" dy="14">11 (0)</tspan></text></g>
<g id="n-kakas"><rect x="4051" y="601" width="72" height="48"/><text x="4087" y="623">Kakas<tspan x="4087" dy="14">15 (0)</tspan></text></g>
<g id="n-durojin"><rect x="4145.5" y="601" width="75" height="48"/><text x="4183" y="623">Durojin<tspan x="4183" dy="14">15 (0)</tspan></text></g>
<g id="n-rotanev"><rect x="4241.5" y="601" width="75" height="48"/><text x="4279" y="623">Rotanev<tspan x="4279" dy="14">7 (0)</tspan></text></g>
<g id="n-lp3397"><rect x="4454.5" y="601" width="75" height="48"/><text x="4492" y="623">LP 339-7<tspan x="4492" dy="14">5 (0)</tspan></text></g>
<g id="n-ltt15838"><rect x="4555.5" y="601" width="85" height="48"/><text x="4598" y="623">LTT 15838<tspan x="4598" dy="14">8 (0)</tspan></text></g>
<g id="n-yzcmi"><rect x="4664" y="601" width="120" height="48"/><text x="4724" y="623">YZ Canis Minoris<tspan x="4724" dy="14">0 (0)</tspan></text></g>
<g id="n-ditibi"><rect class="c" x="4808" y="601" width="72" height="48"/><text x="4844" y="623">Ditibi<tspan x="4844" dy="14">2 (1)</tspan></text></g>
<g id="n-g9949"><rect x="4902.5" y="601" width="75" height="48"/><text x="4940" y="623">G 99-49<tspan x="4940" dy="14">0 (0)</tspan></text></g>
<g id="n-nltt15714"><rect class="c" x="5000.5" y="601" width="95" height="48"/><text x="5048" y="623">NLTT 15714<tspan x="5048" dy="14">1 (1)</tspan></text></g>
<g id="n-lft142"><rect x="5120" y="601" width="72" height="48"/><text x="5156" y="623">LFT 142<tspan x="5156" dy="14">1 (0)</tspan></text></g>
<g id="n-lft78"><rect class="s c" x="5585" y="601" width="72" height="48"/><text x="5621" y="623">LFT 78<tspan x="5621" dy="14">21 (1)</tspan></text></g>
<g id="n-sugrivik"><rect x="5679.5" y="601" width="75" height="48"/><text x="5717" y="623">Sugrivik<tspan x="5717" dy="14">14 (0)</tspan></text></g>
<g id="n-ltt9494"><rect x="5776" y="601" width="78" height="48"/><text x="5815" y="623">LTT 9494<tspan x="5815" dy="14">2 (0)</tspan></text></g>
<g id="n-euryale"><rect class="s" x="5877" y="601" width="72" height="48"/><text x="5913" y="623">Euryale<tspan x="5913" dy="14">19 (0)</tspan></text></g>
<g id="n-yimanbin"><rect x="5978" y="601" width="72" height="48"/><text x="6014" y="623">Yimanbin<tspan x="6014" dy="14">6 (0)</tspan></text></g>
<g id="n-hip90162"><rect x="6082.5" y="601" width="75" height="48"/><text x="6120" y="623">HIP 90162<tspan x="6120" dy="14">10 (0)</tspan></text></g>
<g id="n-wolfberg"><rect x="6187.5" y="601" width="75" height="48"/><text x="6225" y="623">Wolfberg<tspan x="6225" dy="14">13 (0)</tspan></text></g>
<g id="n-lft926"><rect class="s c" x="6287" y="601" width="72" height="48"/><text x="6323" y="623">LFT 926<tspan x="6323" dy="14">17 (1)</tspan></text></g>
<g id="n-ltt5212"><rect x="6383" y="601" width="78" height="48"/><text x="6422" y="623">LTT 5212<tspan x="6422" dy="14">8 (0)</tspan></text></g>
<g id="n-er8"><rect x="6485" y="601" width="72" height="48"/><text x="6521" y="623">ER 8<tspan x="6521" dy="14">10 (0)</tspan></text></g>
<g id="n-zetamic"><rect x="4" y="697" width="120" height="48"/><text x="64" y="719">Zeta Microscopii<tspan x="64" dy="14">9 (0)</tspan></text></g>
<g id="n-cd3914212"><rect x="148" y="697" width="102" height="48"/><text x="199" y="719">CD-39 14212<tspan x="199" dy="14">6 (0)</tspan></text></g>
<g id="n-ltt8260"><rect class="s" x="275.5" y="697" width="77" height="48"/><text x="314" y="719">LTT 8260<tspan x="314" dy="14">18 (0)</tspan></text></g>
<g id="n-imhote"><rect x="376.5" y="697" width="71" height="48"/><text x="412" y="719">Imhote<tspan x="412" dy="14">9 (0)</tspan></text></g>
<g id="n-uzbekree"><rect x="547" y="697" width="78" height="48"/><text x="586" y="719">Uzbekree<tspan x="586" dy="14">14 (0)</tspan></text></g>
<g id="n-maramovoy"><rect class="p" x="702.5" y="697" width="91" height="48"/><text x="748" y="719">Maramovoy<tspan x="748" dy="14">16 (10)</tspan></text></g>
<g id="n-ixchita"><rect class="p" x="818" y="697" width="72" height="48"/><text x="854" y="719">Ix Chita<tspan x="854" dy="14">17 (13)</tspan></text></g>
<g id="n-mislika"><rect class="s" x="914" y="697" width="72" height="48"/><text x="950" y="719">Mislika<tspan x="950" dy="14">10 (0)</tspan></text></g>
<g id="n-veroo"><rect x="1061" y="697" width="72" height="48"/><text x="1097" y="719">Veroo<tspan x="1097" dy="14">14 (0)</tspan></text></g>
<g id="n-kwakwakwal"><rect x="1318.5" y="697" width="99" height="48"/><text x="1368" y="719">Kwakwakwal<tspan x="1368" dy="14">15 (0)</tspan></text></g>
<g id="n-tatamo"><rect class="c" x="1440" y="697" width="72" height="48"/><text x="1476" y="719">Tatamo<tspan x="1476" dy="14">10 (2)</tspan></text></g>
<g id="n-wak"><rect x="1537" y="697" width="72" height="48"/><text x="1573" y="719">Wak<tspan x="1573" dy="14">11 (0)</tspan></text></g>
<g id="n-giryak"><rect x="1633" y="697" width="72" height="48"/><text x="1669" y="719">Giryak<tspan x="1669" dy="14">11 (0)</tspan></text></g>
<g id="n-vanaharan"><rect x="1728" y="697" width="88" height="48"/><text x="1772" y="719">Vanaharan<tspan x="1772" dy="14">11 (0)</tspan></text></g>
<g id="n-arany"><rect class="c" x="1840" y="697" width="72" height="48"/><text x="1876" y="719">Arany<tspan x="1876" dy="14">17 (4)</tspan></text></g>
<g id="n-mehen"><rect x="1936" y="697" width="72" height="48"/><text x="1972" y="719">Mehen<tspan x="1972" dy="14">11 (0)</tspan></text></g>
<g id="n-kehperi"><rect x="2032" y="697" width="72" height="48"/><text x="2068" y="719">Kehperi<tspan x="2068" dy="14">12 (0)</tspan></text></g>
<g id="n-cashibo"><rect class="s c" x="2128" y="697" width="72" height="48"/><text x="2164" y="719">Cashibo<tspan x="2164" dy="14">28 (1)</tspan></text></g>
<g id="n-hr6534"><rect x="2224.5" y="697" width="75" height="48"/><text x="2262" y="719">HR 6534<tspan x="2262" dy="14">7 (0)</tspan></text></g>
<g id="n-colyko"><rect x="2324" y="697" width="190" height="48"/><text x="2419" y="719">Col 285 Sector YK-O d6-151<tspan x="2419" dy="14">12 (0)</tspan></text></g>
<g id="n-zetatel"><rect x="2539" y="697" width="110" height="48"/><text x="2594" y="719">Zeta Telescopii<tspan x="2594" dy="14">16 (0)</tspan></text></g>
<g id="n-tiensei"><rect x="2673" y="697" width="72" height="48"/><text x="2709" y="719">T'iensei<tspan x="2709" dy="14">16 (0)</tspan></text></g>
<g id="n-lukxing"><rect class="s" x="2770" y="697" width="72" height="48"/><text x="2806" y="719">Luk Xing<tspan x="2806" dy="14">31 (0)</tspan></text></g>
<g id="n-hunapiti"><rect class="c" x="2897" y="697" width="78" height="48"/><text x="2936" y="719">Hunapiti<tspan x="2936" dy="14">13 (1)</tspan></text></g>
<g id="n-hip103311"><rect class="s" x="3051.5" y="697" width="95" height="48"/><text x="3099" y="719">HIP 103311<tspan x="3099" dy="14">8 (0)</tspan></text></g>
<g id="n-teaka"><rect class="s" x="3633" y="697" width="72" height="48"/><text x="3669" y="719">Teaka<tspan x="3669" dy="14">17 (0)</tspan></text></g>
<g id="n-cenukichs"><rect x="3729" y="697" width="90" height="48"/><text x="3774" y="719">Cenu Kichs<tspan x="3774" dy="14">7 (0)</tspan></text></g>
<g id="n-nisgayo"><rect x="3842" y="697" width="72" height="48"/><text x="3878" y="719">Nisgayo<tspan x="3878" dy="14">6 (0)</tspan></text></g>
<g id="n-punna"><rect class="s" x="4142" y="697" width="72" height="48"/><text x="4178" y="719">Punna<tspan x="4178" dy="14">29 (0)</tspan></text></g>
<g id="n-lhs3677"><rect class="s" x="4243" y="697" width="72" height="48"/><text x="4279" y="719">LHS 3677<tspan x="4279" dy="14">31 (0)</tspan></text></g>
<g id="n-17cyg"><rect x="4355.5" y="697" width="75" height="48"/><text x="4393" y="719">17 Cygni<tspan x="4393" dy="14">6 (0)</tspan></text></g>
<g id="n-lp2827"><rect x="4455.5" y="697" width="75" height="48"/><text x="4493" y="719">LP 282-7<tspan x="4493" dy="14">6 (0)</tspan></text></g>
<g id="n-27b1cyg"><rect x="4554.5" y="697" width="95" height="48"/><text x="4602" y="719">27 b1 Cygni<tspan x="4602" dy="14">6 (0)</tspan></text></g>
<g id="n-pareco"><rect x="4675" y="697" width="72" height="48"/><text x="4711" y="719">Pareco<tspan x="4711" dy="14">12 (0)</tspan></text></g>
<g id="n-fuelum"><rect x="5978" y="697" width="72" height="48"/><text x="6014" y="719">Fuelum<tspan x="6014" dy="14">3 (0)</tspan></text></g>
<g id="n-lds413"><rect x="6230.5" y="697" width="75" height="48"/><text x="6268" y="719">LDS 413<tspan x="6268" dy="14">6 (0)</tspan></text></g>
<g id="n-cd338748"><rect x="6329.5" y="697" width="95" height="48"/><text x="6377" y="719">CD-33 8748<tspan x="6377" dy="14">8 (0)</tspan></text></g>
<g id="n-hip101726"><rect x="85" y="793" width="94" height="48"/><text x="132" y="815">HIP 101726<tspan x="132" dy="14">8 (0)</tspan></text></g>
<g id="n-junga"><rect x="222" y="793" width="72" height="48"/><text x="258" y="815">Junga<tspan x="258" dy="14">9 (0)</tspan></text></g>
<g id="n-hip99642"><rect class="s b" x="319" y="793" width="88" height="48"/><text x="363" y="815">HIP 99642<tspan x="363" dy="14">31 (9)</tspan></text></g>
<g id="n-gabjaujavas"><rect x="431" y="793" width="94" height="48"/><text x="478" y="815">Gabjaujavas<tspan x="478" dy="14">13 (0)</tspan></text></g>
<g id="n-iahbulu"><rect class="s c" x="550" y="793" width="72" height="48"/><text x="586" y="815">Iah Bulu<tspan x="586" dy="14">21 (1)</tspan></text></g>
<g id="n-finteno"><rect x="645" y="793" width="72" height="48"/><text x="681" y="815">Finteno<tspan x="681" dy="14">9 (0)</tspan></text></g>
<g id="n-nltt52560"><rect x="742" y="793" width="94" height="48"/><text x="789" y="815">NLTT 52560<tspan x="789" dy="14">7 (0)</tspan></text></g>
<g id="n-hr8208"><rect x="862.5" y="793" width="75" height="48"/><text x="900" y="815">HR 8208<tspan x="900" dy="14">9 (0)</tspan></text></g>
<g id="n-latones"><rect x="960" y="793" width="72" height="48"/><text x="996" y="815">Latones<tspan x="996" dy="14">12 (0)</tspan></text></g>
<g id="n-wandjera"><rect class="c" x="1058" y="793" width="78" height="48"/><text x="1097" y="815">Wandjera<tspan x="1097" dy="14">14 (1)</tspan></text></g>
<g id="n-sanguan"><rect class="s p" x="1159" y="793" width="82" height="48"/><text x="1200" y="815">San Guan<tspan x="1200" dy="14">25 (19)</tspan></text></g>
<g id="n-garm"><rect class="c" x="1265" y="793" width="72" height="48"/><text x="1301" y="815">Garm<tspan x="1301" dy="14">18 (1)</tspan></text></g>
<g id="n-fuxianses"><rect x="1362.5" y="793" width="85" height="48"/><text x="1405" y="815">Fu Xianses<tspan x="1405" dy="14">13 (0)</tspan></text></g>
<g id="n-dhanchu"><rect class="c" x="1471" y="793" width="78" height="48"/><text x="1510" y="815">Dhanchu<tspan x="1510" dy="14">15 (3)</tspan></text></g>
<g id="n-glusu"><rect class="s" x="2770" y="793" width="72" height="48"/><text x="2806" y="815">Glusu<tspan x="2806" dy="14">24 (0)</tspan></text></g>
<g id="n-wadir"><rect class="b" x="2897" y="793" width="78" height="48"/><text x="2936" y="815">Wadir<tspan x="2936" dy="14">21 (6)</tspan></text></g>
<g id="n-skinfaxi"><rect x="3632" y="793" width="72" height="48"/><text x="3668" y="815">Skinfaxi<tspan x="3668" dy="14">12 (0)</tspan></text></g>
<g id="n-batz"><rect x="3730" y="793" width="72" height="48"/><text x="3766" y="815">Batz<tspan x="3766" dy="14">8 (0)</tspan></text></g>
<g id="n-mariyacoch"><rect x="4184" y="793" width="88" height="48"/><text x="4228" y="815">Mariyacoch<tspan x="4228" dy="14">14 (0)</tspan></text></g>
<g id="n-lhangkambe"><rect x="4441" y="793" width="100" height="48"/><text x="4491" y="815">Lhangkambe<tspan x="4491" dy="14">9 (0)</tspan></text></g>
<g id="n-hr7294"><rect class="s" x="4566" y="793" width="72" height="48"/><text x="4602" y="815">HR 7294<tspan x="4602" dy="14">19 (0)</tspan></text></g>
<g id="n-hr7451"><rect x="4665" y="793" width="72" height="48"/><text x="4701" y="815">HR 7451<tspan x="4701" dy="14">10 (0)</tspan></text></g>
<g id="n-16cyg"><rect x="4762" y="793" width="78" height="48"/><text x="4801" y="815">16 Cygni<tspan x="4801" dy="14">6 (0)</tspan></text></g>
<g id="n-nomyoin"><rect x="923.5" y="889" width="77" height="48"/><text x="962" y="911">No Myoin<tspan x="962" dy="14">2 (0)</tspan></text></g>
<g id="n-gendenwitha"><rect class="c" x="1026" y="889" width="102" height="48"/><text x="1077" y="911">Gendenwitha<tspan x="1077" dy="14">4 (2)</tspan></text></g>
<g id="n-nahuaru"><rect x="1151.5" y="889" width="75" height="48"/><text x="1189" y="911">Nahuaru<tspan x="1189" dy="14">17 (0)</tspan></text></g>
<g id="n-hip88178"><rect class="c" x="1253" y="889" width="86" height="48"/><text x="1296" y="911">HIP 88178<tspan x="1296" dy="14">14 (2)</tspan></text></g>
<g id="n-hip88471"><rect x="1363" y="889" width="86" height="48"/><text x="1406" y="911">HIP 88471<tspan x="1406" dy="14">13 (0)</tspan></text></g>
<g id="n-wich"><rect x="1469" y="889" width="72" height="48"/><text x="1505" y="911">Wich<tspan x="1505" dy="14">13 (0)</tspan></text></g>
<g id="n-colgii"><rect class="s" x="1570" y="889" width="184" height="48"/><text x="1662" y="911">Col 285 Sector GI-I c10-19<tspan x="1662" dy="14">11 (0)</tspan></text></g>
<g id="n-mapor"><rect x="2900" y="889" width="72" height="48"/><text x="2936" y="911">Mapor<tspan x="2936" dy="14">9 (0)</tspan></text></g>
<g id="n-ra"><rect x="3631" y="889" width="72" height="48"/><text x="3667" y="911">Ra<tspan x="3667" dy="14">12 (0)</tspan></text></g>
<g id="n-lp7017"><rect class="s c" x="3730" y="889" width="72" height="48"/><text x="3766" y="911">LP 701-7<tspan x="3766" dy="14">26 (1)</tspan></text></g>
<g id="n-aoshun"><rect x="4614.5" y="889" width="75" height="48"/><text x="4652" y="911">Ao Shun<tspan x="4652" dy="14">7 (0)</tspan></text></g>
<g id="n-colgpk"><rect x="871" y="985" width="182" height="48"/><text x="962" y="1007">Col 285 Sector GP-K b23-2<tspan x="962" dy="14">0 (0)</tspan></text></g>
<g id="n-adad"><rect x="3681" y="985" width="72" height="48"/><text x="3717" y="1007">Adad<tspan x="3717" dy="14">11 (0)</tspan></text></g>
<g id="n-salarhul"><rect x="1783" y="985" width="72" height="48"/><text x="1819" y="1007">Salarhul<tspan x="1819" dy="14">11 (0)</tspan></text></g>
<g id="n-colxko"><rect x="870" y="1081" width="184" height="48"/><text x="962" y="1103">Col 285 Sector XK-O d6-69<tspan x="962" dy="14">0 (0)</tspan></text></g>
<g id="n-ammapa"><rect x="1624" y="1081" width="78" height="48"/><text x="1663" y="1103">Ammapa<tspan x="1663" dy="14">9 (0)</tspan></text></g>
<g id="n-yemotepa"><rect class="s" x="1730" y="1081" width="72" height="48"/><text x="1766" y="1103">Yemotepa<tspan x="1766" dy="14">14 (0)</tspan></text></g>
<g id="n-badevaci"><rect x="1832" y="1081" width="78" height="48"/><text x="1871" y="1103">Ba Devaci<tspan x="1871" dy="14">7 (0)</tspan></text></g>
<g id="n-tiralya"><rect x="1937" y="1081" width="72" height="48"/><text x="1973" y="1103">Tiralya<tspan x="1973" dy="14">8 (0)</tspan></text></g>
<g id="n-colrke"><rect x="867" y="1177" width="190" height="48"/><text x="962" y="1199">Col 285 Sector RK-E c12-36<tspan x="962" dy="14">0 (0)</tspan></text></g>
<g id="n-xibe"><rect x="1730" y="1177" width="72" height="48"/><text x="1766" y="1199">Xibe<tspan x="1766" dy="14">8 (0)</tspan></text></g>
<g id="n-muncheim"><rect class="s c" x="1674.5" y="1273" width="75" height="48"/><text x="1712" y="1295">Muncheim<tspan x="1712" dy="14">15 (2)</tspan></text></g>
<g id="n-hip2422"><rect x="1781.5" y="1273" width="75" height="48"/><text x="1819" y="1295">HIP 2422<tspan x="1819" dy="14">12 (0)</tspan></text></g>
</svg>
